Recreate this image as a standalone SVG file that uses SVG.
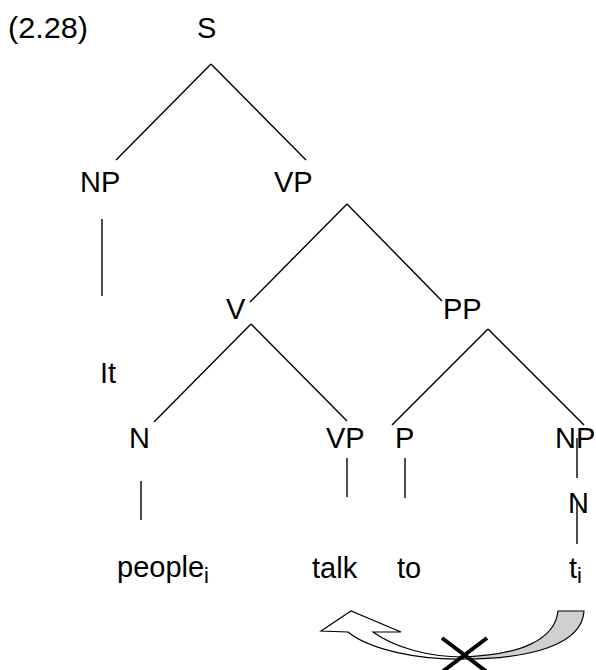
<svg xmlns="http://www.w3.org/2000/svg" width="596" height="670" viewBox="0 0 596 670">
<style>
text{font-family:"Liberation Sans",Arial,sans-serif;font-size:29px;fill:#000}
.sub{font-size:22px}
.e{stroke:#000;stroke-width:1.4;fill:none}
</style>
<rect width="596" height="670" fill="#fff"/>
<text x="8" y="38" textLength="80" lengthAdjust="spacingAndGlyphs">(2.28)</text>
<g id="S"><text x="197" y="38">S</text></g>
<g id="NP1"><text x="80" y="192">NP</text></g>
<g id="VP1"><text x="274" y="192">VP</text></g>
<g id="It"><text x="100" y="383">It</text></g>
<g id="V"><text x="226" y="319">V</text></g>
<g id="PP"><text x="443" y="319">PP</text></g>
<g id="N1"><text x="129" y="448">N</text></g>
<g id="VP2"><text x="326" y="448">VP</text></g>
<g id="P"><text x="395" y="448">P</text></g>
<g id="NP2"><text x="555" y="448">NP</text></g>
<g id="N2"><text x="568" y="513">N</text></g>
<g id="people"><text x="117" y="577">people<tspan class="sub" dy="6">i</tspan></text></g>
<g id="talk"><text x="312" y="578">talk</text></g>
<g id="to"><text x="397" y="578">to</text></g>
<g id="t"><text x="569" y="578">t<tspan class="sub" dy="5">i</tspan></text></g>
<g id="connectors" class="e">
<line x1="211" y1="64" x2="116" y2="160"/>
<line x1="211" y1="64" x2="306" y2="160"/>
<line x1="102" y1="219" x2="102" y2="296"/>
<line x1="347" y1="204" x2="250" y2="302"/>
<line x1="347" y1="204" x2="442" y2="301"/>
<line x1="251" y1="324" x2="154" y2="422"/>
<line x1="251" y1="324" x2="347" y2="421"/>
<line x1="488" y1="329" x2="392" y2="425"/>
<line x1="488" y1="329" x2="584" y2="425"/>
<line x1="141" y1="481" x2="141" y2="520"/>
<line x1="347" y1="458" x2="347" y2="497"/>
<line x1="405" y1="458" x2="405" y2="498"/>
<line x1="577" y1="438" x2="577" y2="478"/>
<line x1="577" y1="500" x2="577" y2="544"/>
</g>
<g id="arrow">
<path d="M584,611 C582,645 530,659 463,659 L463,657 C520,655 555,640 558,611 Z" fill="#d0d0d0" stroke="#000" stroke-width="1.2"/>
<path d="M321,631 L351,611 L401,632 L373,632 C395,648 430,657 463,657 L463,659 C420,660 370,650 348,632 Z" fill="#fff" stroke="#000" stroke-width="1.2"/>
<line x1="442" y1="638" x2="487" y2="672" stroke="#000" stroke-width="4"/>
<line x1="487" y1="638" x2="442" y2="672" stroke="#000" stroke-width="4"/>
</g>
</svg>
